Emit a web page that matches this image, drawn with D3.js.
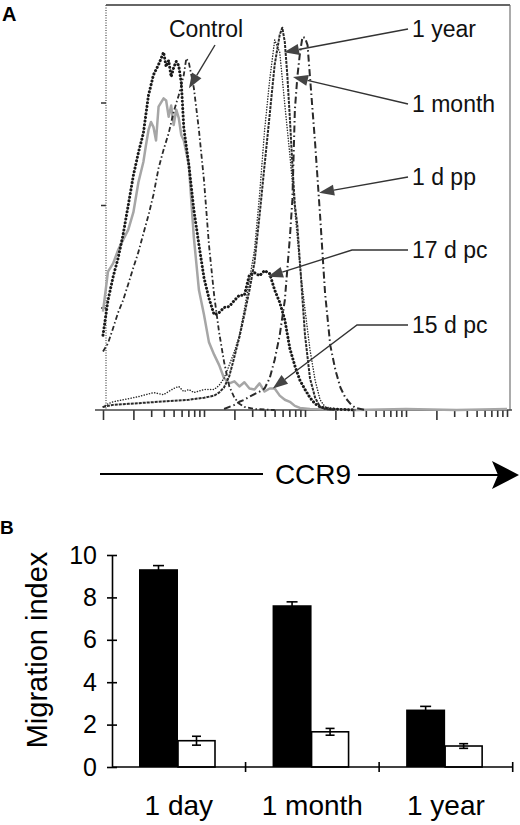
<!DOCTYPE html>
<html>
<head>
<meta charset="utf-8">
<script src="https://cdn.jsdelivr.net/npm/d3@7"></script>
<style>
  body { margin: 0; background: #fff; }
  svg { display: block; font-family: "Liberation Sans", Arial, Helvetica, sans-serif; }
</style>
</head>
<body>
<svg width="520" height="825"></svg>
<script>
// ---- panel A: CCR9 histograms, [fluorescence intensity, cell count]
const control = [[1.00,57],[1.12,65],[1.26,80],[1.41,95],[1.58,107],[1.78,123],[2.00,139],[2.24,154],[2.51,172],[2.82,190],[3.16,210],[3.55,236],[3.98,254],[4.47,270],[5.01,291],[5.62,307],[6.31,327],[6.68,343],[7.08,339],[7.94,314],[8.91,273],[10.0,224],[11.2,161],[12.6,112],[14.1,76],[15.8,47],[17.8,23],[20.0,12],[22.4,6],[25.1,3],[31.6,1],[50.1,0]];
const d15pc = [[1.00,96],[1.12,135],[1.26,143],[1.41,156],[1.58,166],[1.78,176],[2.00,193],[2.24,222],[2.51,242],[2.66,258],[2.82,273],[2.99,281],[3.16,276],[3.35,263],[3.55,296],[3.98,304],[4.22,302],[4.47,286],[4.73,297],[5.01,278],[5.31,293],[5.62,285],[5.96,268],[6.31,263],[7.08,239],[7.94,168],[8.91,117],[10.0,93],[11.2,66],[12.6,54],[14.1,44],[15.8,31],[17.8,26],[20.0,28],[22.4,23],[25.1,27],[28.2,21],[31.6,20],[35.5,26],[39.8,18],[44.7,21],[50.1,21],[56.2,14],[63.1,10],[70.8,8],[79.4,4],[89.1,2],[112,1],[316,0],[1000,1],[3160,0],[10000,1]];
const d17pc = [[1.00,73],[1.12,107],[1.26,130],[1.41,148],[1.58,171],[1.78,200],[2.00,229],[2.24,251],[2.51,270],[2.82,307],[3.16,327],[3.55,337],[3.98,349],[4.22,335],[4.47,341],[4.73,325],[5.01,334],[5.31,340],[5.62,336],[5.96,319],[6.31,275],[7.08,239],[7.94,195],[8.91,161],[10.0,129],[11.2,109],[12.6,93],[14.1,95],[15.8,100],[17.8,101],[20.0,107],[22.4,112],[25.1,112],[28.2,132],[31.6,134],[35.5,131],[39.8,136],[44.7,133],[50.1,117],[56.2,105],[63.1,88],[70.8,60],[79.4,43],[89.1,29],[100,20],[112,12],[126,6],[141,3],[178,1],[316,0]];
const year1 = [[1.00,3],[1.12,6],[1.26,8],[1.58,10],[2.24,13],[3.16,17],[3.98,15],[5.01,21],[5.62,23],[6.31,18],[7.08,20],[7.94,17],[10.0,20],[12.6,20],[14.1,24],[15.8,31],[17.8,44],[20.0,57],[22.4,73],[25.1,98],[28.2,127],[31.6,156],[35.5,210],[39.8,273],[44.7,322],[50.1,361],[56.2,349],[63.1,298],[70.8,249],[79.4,195],[89.1,140],[100,98],[112,59],[126,29],[141,10],[158,3],[200,1],[316,0]];
const month1 = [[1.00,3],[1.26,5],[1.78,6],[2.51,7],[3.55,8],[5.01,9],[7.08,10],[10.0,12],[12.6,14],[14.1,17],[15.8,22],[17.8,33],[20.0,52],[22.4,71],[25.1,93],[28.2,117],[31.6,144],[35.5,190],[39.8,239],[44.7,288],[50.1,337],[56.2,366],[59.6,373],[63.1,359],[66.8,327],[70.8,285],[75.0,239],[79.4,200],[84.0,180],[89.1,144],[100,73],[112,31],[126,12],[141,3],[158,1],[200,0]];
const day1pp = [[15.8,1],[20.0,5],[22.4,8],[25.1,10],[28.2,13],[35.5,18],[39.8,21],[44.7,31],[50.1,49],[56.2,73],[63.1,107],[70.8,168],[75.0,205],[79.4,293],[84.0,325],[89.1,348],[94.4,364],[100,363],[106,356],[112,325],[126,260],[141,190],[158,114],[178,63],[200,39],[224,22],[251,12],[282,6],[316,2],[398,0]];

const histTicks = [100, 200, 300];
const calloutLabels = ['1 year', '1 month', '1 d pp', '17 d pc', '15 d pc'];
const calloutTips = [[62,349],[76,325],[138,212],[43,130],[48,21]];
const controlTip = [7.1, 314];

// ---- panel B: migration index
const ages = ['1 day', '1 month', '1 year'];
const ccl25Mean = [9.33, 7.63, 2.71];
const ccl25Err = [0.17, 0.16, 0.15];
const mediumMean = [1.24, 1.66, 0.99];
const mediumErr = [0.21, 0.16, 0.11];
const migrationTicks = [0, 2, 4, 6, 8, 10];

const svg = d3.select('svg');

// ================= panel A =================
const x = d3.scaleLog().domain([1, 1e4]).range([103, 507]);
const y = d3.scaleLinear().domain([0, 400]).range([410, 0]);

const gA = svg.append('g');

svg.append('text')
    .attr('x', 2).attr('y', 21)
    .attr('font-size', 20).attr('font-weight', 'bold')
    .text('A');

// frame
gA.append('line').attr('x1', 106).attr('x2', 510).attr('y1', 5).attr('y2', 5)
    .attr('stroke', '#333').attr('stroke-width', 1.6);
gA.append('line').attr('x1', 510).attr('x2', 510).attr('y1', 5).attr('y2', 410)
    .attr('stroke', '#666').attr('stroke-width', 1.1);
gA.append('line').attr('x1', 106).attr('x2', 106).attr('y1', 5).attr('y2', 410)
    .attr('stroke', '#555').attr('stroke-width', 1.3).attr('stroke-dasharray', '1,1.5');

const yAxisA = gA.append('g')
    .attr('transform', 'translate(106,0)')
    .call(d3.axisLeft(y).tickValues(histTicks).tickSize(5).tickFormat(''));
yAxisA.select('.domain').remove();
yAxisA.selectAll('.tick line').attr('stroke', '#333').attr('stroke-width', 1.5);

// log axis ticks
const logTicks = [];
for (let n = 0; n < 4; n++) {
    for (let k = 1; k < 10; k++) logTicks.push(k * Math.pow(10, n));
}
logTicks.push(1e4);

const xAxisA = gA.append('g')
    .attr('transform', 'translate(0,410)')
    .call(d3.axisBottom(x).tickValues(logTicks).tickSize(7).tickFormat(''));
xAxisA.select('.domain').remove();
xAxisA.selectAll('.tick line')
    .attr('stroke', '#333').attr('stroke-width', 1.6)
    .attr('y2', d => {
        const lead = Math.round(d / Math.pow(10, Math.floor(Math.log10(d) + 1e-9)));
        return (lead === 2 || d === 1) ? 10 : 7;
    });
gA.append('line').attr('x1', 95).attr('x2', 512).attr('y1', 410).attr('y2', 410)
    .attr('stroke', '#444').attr('stroke-width', 1.6);

// curves
const line = d3.line().x(d => x(d[0])).y(d => y(d[1]));

const curves = [
    { data: d15pc,   stroke: '#a6a6a6', width: 2.5, dash: null,             cap: 'butt' },
    { data: control, stroke: '#2a2a2a', width: 1.8, dash: '5,2.5,1.5,2.5',   cap: 'butt' },
    { data: d17pc,   stroke: '#1a1a1a', width: 3.0, dash: '0.1,3.6',         cap: 'round' },
    { data: year1,   stroke: '#2a2a2a', width: 1.5, dash: '0.1,2.6',         cap: 'round' },
    { data: month1,  stroke: '#2a2a2a', width: 2.0, dash: '3,1',             cap: 'butt' },
    { data: day1pp,  stroke: '#2a2a2a', width: 2.0, dash: '7,3,1.5,3',       cap: 'butt' }
];

gA.selectAll('path.curve')
    .data(curves)
    .join('path')
    .attr('class', 'curve')
    .attr('d', c => line(c.data))
    .attr('fill', 'none')
    .attr('stroke', c => c.stroke)
    .attr('stroke-width', c => c.width)
    .attr('stroke-dasharray', c => c.dash)
    .attr('stroke-linecap', c => c.cap)
    .attr('stroke-linejoin', 'round');

// callout arrows
function arrow(g, pts, tip) {
    const last = pts[pts.length - 1];
    const dx = tip[0] - last[0], dy = tip[1] - last[1];
    const len = Math.hypot(dx, dy);
    const ux = dx / len, uy = dy / len;
    const headL = 15, headW = 5.5;
    const bx = tip[0] - ux * headL, by = tip[1] - uy * headL;
    g.append('path')
        .attr('d', d3.line()([...pts, [bx, by]]))
        .attr('fill', 'none').attr('stroke', '#333').attr('stroke-width', 1.4);
    g.append('path')
        .attr('d', `M${tip[0]},${tip[1]}L${bx - uy * headW},${by + ux * headW}L${bx + uy * headW},${by - ux * headW}Z`)
        .attr('fill', '#444');
}

const labelBase = [37, 112, 185, 258, 333];
const elbows = [null, null, null, 352, 357];

calloutLabels.forEach((t, i) => {
    gA.append('text')
        .attr('x', 412).attr('y', labelBase[i])
        .attr('font-size', 23).attr('fill', '#111')
        .text(t);
    const yl = labelBase[i] - 8;
    const pts = [[408, yl]];
    if (elbows[i]) pts.push([elbows[i], yl]);
    arrow(gA, pts, [x(calloutTips[i][0]), y(calloutTips[i][1])]);
});

gA.append('text')
    .attr('x', 206).attr('y', 37)
    .attr('text-anchor', 'middle')
    .attr('font-size', 23).attr('fill', '#111')
    .text('Control');
arrow(gA, [[215, 45]], [x(controlTip[0]), y(controlTip[1])]);

// CCR9 axis title with arrow
gA.append('line').attr('x1', 100).attr('x2', 263).attr('y1', 474).attr('y2', 474)
    .attr('stroke', '#000').attr('stroke-width', 2.2);
gA.append('text')
    .attr('x', 313).attr('y', 484)
    .attr('text-anchor', 'middle')
    .attr('font-size', 28)
    .text('CCR9');
gA.append('line').attr('x1', 358).attr('x2', 500).attr('y1', 475).attr('y2', 475)
    .attr('stroke', '#000').attr('stroke-width', 2.2);
gA.append('path')
    .attr('d', 'M519,475L492,461L498,475L492,489Z')
    .attr('fill', '#000');

// ================= panel B =================
svg.append('text')
    .attr('x', 0).attr('y', 534)
    .attr('font-size', 19).attr('font-weight', 'bold')
    .text('B');

const xb = d3.scaleBand().domain(ages).range([112, 512.7]);
const xs = d3.scaleBand().domain(['ccl25', 'medium']).range([27, 105]);
const yb = d3.scaleLinear().domain([0, 10]).range([767, 555]);

const gB = svg.append('g');

const groups = gB.selectAll('g.age')
    .data(ages)
    .join('g')
    .attr('class', 'age')
    .attr('transform', d => `translate(${xb(d)},0)`);

groups.append('rect')
    .attr('x', xs('ccl25'))
    .attr('width', xs.bandwidth())
    .attr('y', (d, i) => yb(ccl25Mean[i]))
    .attr('height', (d, i) => yb(0) - yb(ccl25Mean[i]))
    .attr('fill', '#000');

groups.append('rect')
    .attr('x', xs('medium'))
    .attr('width', xs.bandwidth() - 2)
    .attr('y', (d, i) => yb(mediumMean[i]))
    .attr('height', (d, i) => yb(0) - yb(mediumMean[i]))
    .attr('fill', '#fff').attr('stroke', '#000').attr('stroke-width', 1.6);

function errBar(sel, cx, lo, hi, capW) {
    sel.append('line').attr('x1', cx).attr('x2', cx)
        .attr('y1', lo).attr('y2', hi)
        .attr('stroke', '#000').attr('stroke-width', 1.6);
    sel.append('line').attr('x1', cx - capW / 2).attr('x2', cx + capW / 2)
        .attr('y1', hi).attr('y2', hi)
        .attr('stroke', '#000').attr('stroke-width', 1.6);
    sel.append('line').attr('x1', cx - capW / 2).attr('x2', cx + capW / 2)
        .attr('y1', lo).attr('y2', lo)
        .attr('stroke', '#000').attr('stroke-width', 1.6);
}

groups.each(function (d, i) {
    const g = d3.select(this);
    errBar(g, xs('ccl25') + xs.bandwidth() / 2,
        yb(ccl25Mean[i] - ccl25Err[i]), yb(ccl25Mean[i] + ccl25Err[i]), 11);
    errBar(g, xs('medium') + (xs.bandwidth() - 2) / 2,
        yb(mediumMean[i] - mediumErr[i]), yb(mediumMean[i] + mediumErr[i]), 9);
});

// y axis
const yAxisB = gB.append('g')
    .attr('transform', 'translate(112,0)')
    .call(d3.axisLeft(yb).tickValues(migrationTicks).tickSize(5).tickSizeOuter(0).tickPadding(10));
yAxisB.attr('font-family', null).attr('font-size', 25);
yAxisB.select('.domain').attr('stroke-width', 1.6);
yAxisB.selectAll('.tick line').attr('x1', 5).attr('stroke-width', 1.6);

// x axis
const xAxisB = gB.append('g')
    .attr('transform', 'translate(0,767)')
    .call(d3.axisBottom(xb).tickSize(0).tickPadding(28));
xAxisB.attr('font-family', null).attr('font-size', 28);
xAxisB.select('.domain').remove();
gB.append('line').attr('x1', 112).attr('x2', 512.7).attr('y1', 767).attr('y2', 767)
    .attr('stroke', '#000').attr('stroke-width', 1.6);
gB.selectAll('line.bound')
    .data(ages)
    .join('line')
    .attr('class', 'bound')
    .attr('x1', d => xb(d) + xb.bandwidth()).attr('x2', d => xb(d) + xb.bandwidth())
    .attr('y1', 762).attr('y2', 772)
    .attr('stroke', '#000').attr('stroke-width', 1.6);

gB.append('text')
    .attr('transform', 'translate(47,650) rotate(-90)')
    .attr('text-anchor', 'middle')
    .attr('font-size', 29)
    .text('Migration index');
</script>
</body>
</html>
